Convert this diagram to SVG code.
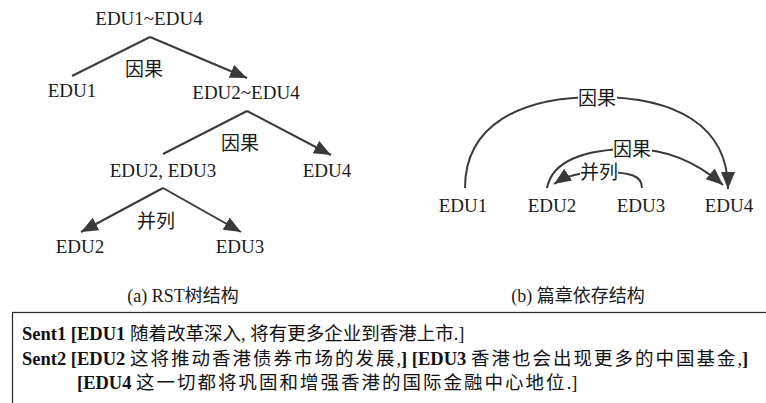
<svg xmlns="http://www.w3.org/2000/svg" width="766" height="403" viewBox="0 0 766 403">
<style>
.t{font-size:19px;fill:#1a1a1a;text-anchor:middle}
.cap{font-size:18px;fill:#1a1a1a;text-anchor:middle}
.e{fill:none;stroke:#3a3a3a;stroke-width:2}
.a{marker-end:url(#ah)}
.bg{fill:#fff}
.s{font-size:18.5px;fill:#111}
.b{font-weight:bold}
.c{letter-spacing:2px}
</style>
<defs>
<marker id="ah" markerUnits="userSpaceOnUse" markerWidth="17" markerHeight="14" refX="17" refY="7" orient="auto">
<path d="M0,0 L17,7 L0,14 z" fill="#3a3a3a"/>
</marker>
</defs>
<rect width="766" height="403" fill="#fff"/>
<g id="connectors">
<line class="e" x1="150" y1="37" x2="72" y2="76"/>
<line class="e a" x1="150" y1="37" x2="247" y2="78"/>
<line class="e" x1="247" y1="111" x2="163" y2="154"/>
<line class="e a" x1="247" y1="111" x2="331" y2="155"/>
<line class="e a" x1="163" y1="188" x2="81" y2="232"/>
<line class="e a" x1="163" y1="188" x2="241" y2="232"/>
<path class="e a" d="M465,188 C465,125 520,97 597,97 C675,97 728,125 728,189"/>
<path class="e a" d="M547,188 C552,162 582,149 632,149 C670,149 700,165 723,185"/>
<path class="e a" d="M642,188 C642,176 632,172 600,172 C580,172 566,176 554,184"/>
</g>
<g font-family="Liberation Serif, Noto Sans CJK SC, serif">
<g id="n-edu14"><text class="t" x="149" y="25">EDU1~EDU4</text></g>
<g id="n-edu1"><text class="t" x="72" y="97">EDU1</text></g>
<g id="n-edu24"><text class="t" x="246" y="99">EDU2~EDU4</text></g>
<g id="n-edu23"><text class="t" x="163" y="177">EDU2, EDU3</text></g>
<g id="n-edu4a"><text class="t" x="327" y="177">EDU4</text></g>
<g id="n-edu2a"><text class="t" x="80" y="253">EDU2</text></g>
<g id="n-edu3a"><text class="t" x="240" y="253">EDU3</text></g>
<g id="l-rst1"><text class="t" x="144" y="76">因果</text></g>
<g id="l-rst2"><text class="t" x="240" y="150">因果</text></g>
<g id="l-rst3"><text class="t" x="156" y="228">并列</text></g>
<g id="n-d1"><text class="t" x="463" y="212">EDU1</text></g>
<g id="n-d2"><text class="t" x="552" y="212">EDU2</text></g>
<g id="n-d3"><text class="t" x="641" y="212">EDU3</text></g>
<g id="n-d4"><text class="t" x="729" y="212">EDU4</text></g>
<g id="l-dep1"><rect class="bg" x="578" y="88" width="39" height="20"/><text class="t" x="597" y="105">因果</text></g>
<g id="l-dep2"><rect class="bg" x="613" y="140" width="39" height="20"/><text class="t" x="632" y="156">因果</text></g>
<g id="l-dep3"><rect class="bg" x="580" y="163" width="38" height="20"/><text class="t" x="599" y="179">并列</text></g>
<g id="captions">
<text class="cap" x="183" y="302">(a) RST树结构</text>
<text class="cap" x="578" y="302">(b) 篇章依存结构</text>
</g>
<g id="example">
<rect x="12.5" y="312.5" width="770" height="110" fill="none" stroke="#333" stroke-width="1.3"/>
<text class="s" x="22" y="340"><tspan class="b">Sent1 [EDU1</tspan> 随着改革深入, 将有更多企业到香港上市.]</text>
<text class="s" x="22" y="365"><tspan class="b">Sent2 [EDU2</tspan> <tspan class="c">这将推动香港债券市场的发展</tspan>,<tspan class="b">] [EDU3</tspan> <tspan class="c">香港也会出现更多的中国基金</tspan>,<tspan class="b">]</tspan></text>
<text class="s" x="77" y="389"><tspan class="b">[EDU4</tspan> <tspan class="c">这一切都将巩固和增强香港的国际金融中心地位</tspan>.]</text>
</g>
</g>
</svg>
